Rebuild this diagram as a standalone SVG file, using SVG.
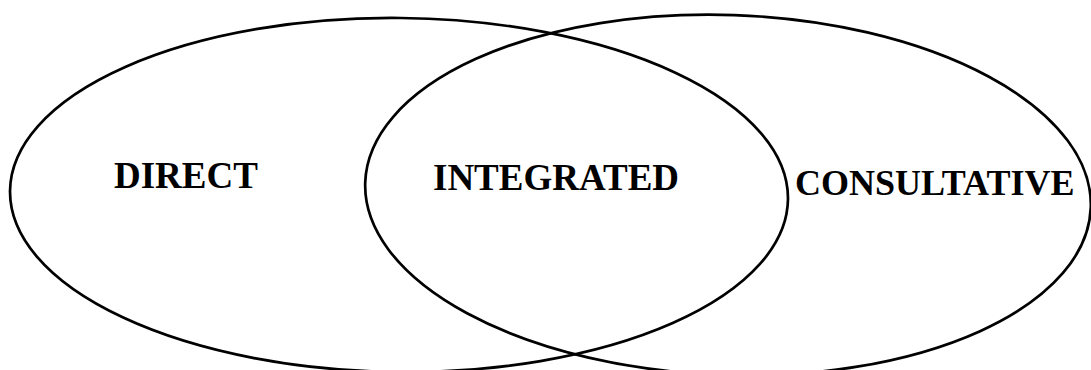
<svg xmlns="http://www.w3.org/2000/svg" width="1091" height="370" viewBox="0 0 1091 370">
<style>
.set{fill:none;stroke:#000;stroke-width:2.7}
.lbl{font-family:"Liberation Serif","Times New Roman",serif;font-weight:bold;font-size:37px;fill:#000}
</style>
<rect width="1091" height="370" fill="#fff"/>
<g id="direct">
<ellipse class="set" cx="399" cy="195" rx="389" ry="177" transform="rotate(0.6 399 195)"/>
<text class="lbl" x="114" y="188">DIRECT</text>
</g>
<g id="consultative">
<ellipse class="set" cx="728" cy="195" rx="363" ry="180" transform="rotate(2 728 195)"/>
<text class="lbl" x="795" y="195" style="font-size:36px">CONSULTATIVE</text>
</g>
<g id="integrated">
<text class="lbl" x="433" y="190">INTEGRATED</text>
</g>
<g id="connectors"></g>
</svg>
